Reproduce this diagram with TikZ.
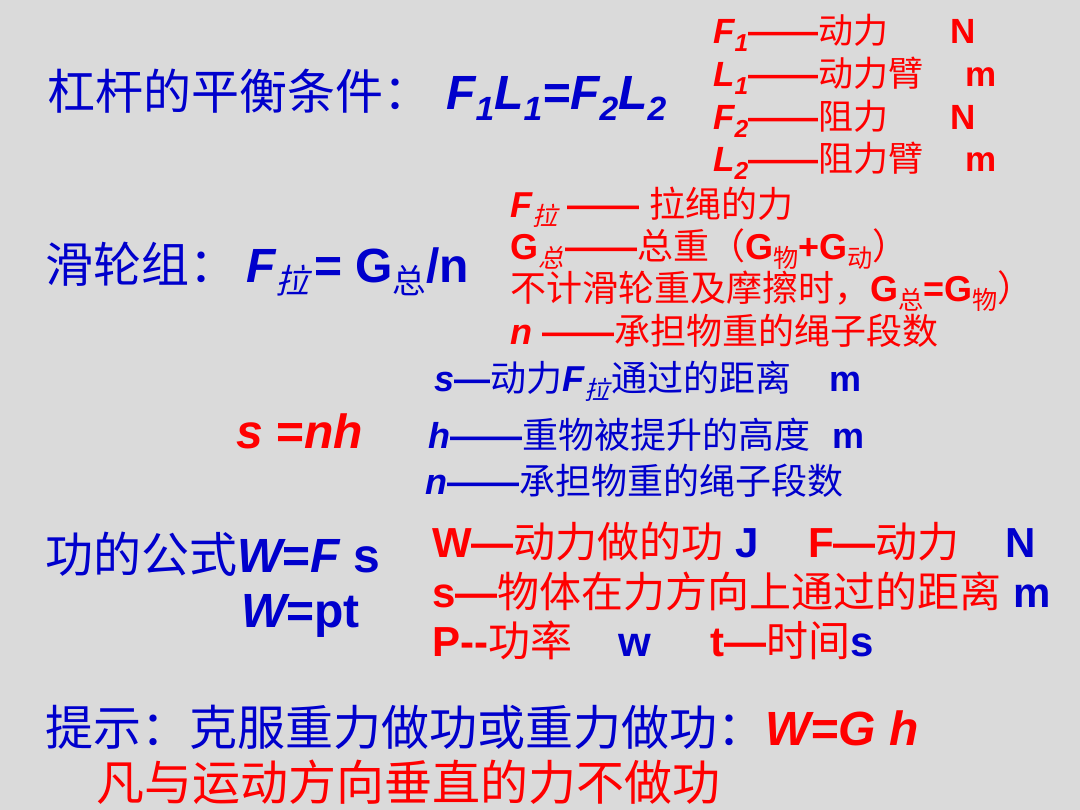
\documentclass[tikz,border=0pt]{standalone}
\usepackage{graphicx}
\usepackage{fontspec}
\setmainfont{Liberation Sans}
\newfontfamily\zhfont{Noto Sans CJK SC}
\newfontfamily\zhslfont{Noto Sans CJK SC}[FakeSlant=0.25]
\definecolor{slidegray}{RGB}{218,218,218}
\definecolor{slideblue}{RGB}{0,0,204}
\definecolor{slidered}{RGB}{255,0,0}
\newcommand\zh[1]{{\zhfont\mdseries\upshape #1}}
\newcommand\zhsl[1]{{\zhslfont\mdseries\upshape #1}}
\newcommand\ii[1]{{\itshape #1}}
\newcommand\dn[1]{\raisebox{-0.22em}{\scalebox{0.7}{#1}}}

\begin{document}
\begin{tikzpicture}[x=1pt,y=-1pt]
  \tikzset{big/.style={anchor=base west,inner sep=0pt,font=\fontsize{48}{56}\selectfont\bfseries,text=#1}}
  \tikzset{note/.style 2 args={anchor=base west,inner sep=0pt,font=\fontsize{#1}{#1}\selectfont\bfseries,text=#2}}

  \path[use as bounding box] (0,0) rectangle (1080,810);
  \fill[slidegray] (0,0) rectangle (1080,810);

  % lever
  \node[big=slideblue] (lever) at (47,110) {\zh{杠杆的平衡条件：}\hspace{15pt}\ii{F\dn1L\dn1=F\dn2L\dn2}};
  \node[note={35}{slidered}] (f1) at (713,44) {\ii{F\dn1}——\zh{动力}};
  \node[note={35}{slidered}] (l1) at (713,87) {\ii{L\dn1}——\zh{动力臂}};
  \node[note={35}{slidered}] (f2) at (713,130) {\ii{F\dn2}——\zh{阻力}};
  \node[note={35}{slidered}] (l2) at (713,172) {\ii{L\dn2}——\zh{阻力臂}};
  \node[note={35}{slidered}] (f1u) at (950,44) {N};
  \node[note={35}{slidered}] (l1u) at (965,87) {m};
  \node[note={35}{slidered}] (f2u) at (950,130) {N};
  \node[note={35}{slidered}] (l2u) at (965,172) {m};

  % pulley block
  \node[big=slideblue] (pulley) at (45,283) {\zh{滑轮组：}\hspace{9pt}\ii{F\dn{\zhsl{拉}}}\hspace{5pt}= G\dn{\zh{总}}/n};
  \node[note={36}{slidered}] (fpull) at (510,218) {\ii{F\dn{\zhsl{拉}}} ——\hspace{10pt}\zh{拉绳的力}};
  \node[note={36}{slidered}] (gtot) at (510,260) {G\dn{\zhsl{总}}\hspace{2pt}——\zh{总重（}G\dn{\zh{物}}+G\dn{\zh{动}}\zh{）}};
  \node[note={36}{slidered}] (nofric) at (510,302) {\zh{不计滑轮重及摩擦时，}G\dn{\zh{总}}=G\dn{\zh{物}}\zh{）}};
  \node[note={36}{slidered}] (nseg) at (510,345) {\ii{n} ——\zh{承担物重的绳子段数}};

  % distance
  \node[big=slidered] (snh) at (236,449) {\ii{s} =\ii{nh}};
  \node[note={36}{slideblue}] (sdist) at (434,392) {\ii{s}—\zh{动力}\ii{F\dn{\zhsl{拉}}}\hspace{2pt}\zh{通过的距离}};
  \node[note={36}{slideblue}] (sdistu) at (829,392) {m};
  \node[note={36}{slideblue}] (hgt) at (428,449) {\ii{h}——\zh{重物被提升的高度}};
  \node[note={36}{slideblue}] (hgtu) at (832,449) {m};
  \node[note={36}{slideblue}] (nrope) at (425,494) {\ii{n}——\zh{承担物重的绳子段数}};

  % work and power
  \node[big=slideblue] (work) at (45,572) {\zh{功的公式}\ii{W}=\ii{F} s};
  \node[big=slideblue] (power) at (241,627) {\ii{W}=pt};
  \node[note={42}{slidered}] (wdef) at (432,557) {W—\zh{动力做的功} \textcolor{slideblue}{J}};
  \node[note={42}{slidered}] (fdef) at (808,557) {F—\zh{动力}};
  \node[note={42}{slideblue}] (fdefu) at (1005,557) {N};
  \node[note={42}{slidered}] (sdef) at (432,607) {s—\zh{物体在力方向上通过的距离} \textcolor{slideblue}{m}};
  \node[note={42}{slidered}] (pdef) at (432,656) {P-{}-\zh{功率}};
  \node[note={42}{slideblue}] (pdefu) at (618,656) {w};
  \node[note={42}{slidered}] (tdef) at (710,656) {t—\zh{时间}\textcolor{slideblue}{s}};

  % hints
  \node[big=slideblue] (hint) at (45,745) {\zh{提示：克服重力做功或重力做功：}\textcolor{slidered}{\ii{W=G h}}};
  \node[big=slidered] (perp) at (96,800) {\zh{凡与运动方向垂直的力不做功}};
\end{tikzpicture}
\end{document}
